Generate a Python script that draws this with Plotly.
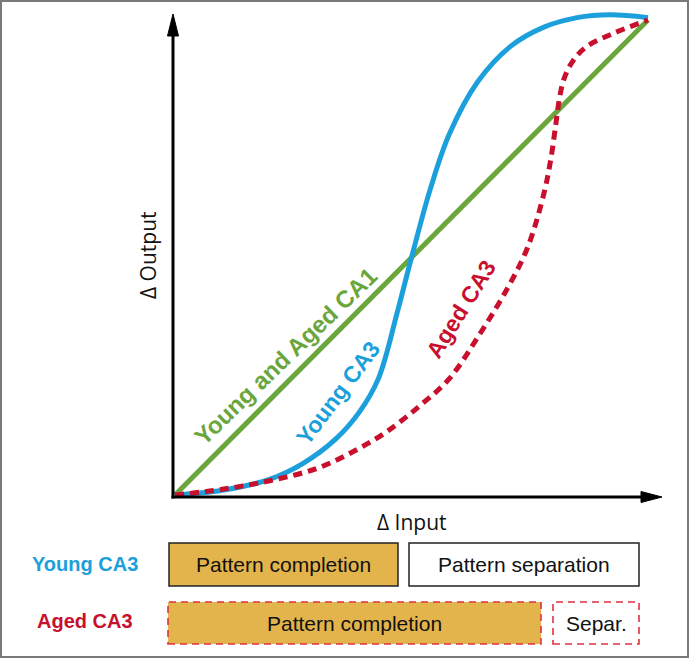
import plotly.graph_objects as go

W, H = 689, 658
X0, XS = 175, 473      # pixel of x=0, pixels per unit
Y0, YS = 495, 475      # pixel of y=0, pixels per unit

# ---- data ----
ca1_x = [0, 1]
ca1_y = [0, 1]

young_x = [0, 0.1, 0.2, 0.27, 0.34, 0.39, 0.43, 0.47, 0.5, 0.54, 0.58,
           0.64, 0.71, 0.78, 0.85, 0.92, 1.0]
young_y = [0, 0.01, 0.033, 0.066, 0.118, 0.175, 0.245, 0.385, 0.50, 0.645,
           0.76, 0.87, 0.945, 0.985, 1.005, 1.011, 1.005]

aged_x = [0, 0.1, 0.2, 0.3, 0.38, 0.45, 0.52, 0.58, 0.645, 0.70, 0.745,
          0.78, 0.795, 0.805, 0.812, 0.822, 0.84, 0.87, 0.927, 1.0]
aged_y = [0, 0.012, 0.03, 0.056, 0.093, 0.135, 0.19, 0.245, 0.34, 0.43,
          0.52, 0.635, 0.71, 0.78, 0.83, 0.875, 0.912, 0.944, 0.972, 1.0]

row_labels = ["Young CA3", "Aged CA3"]
young_boxes = ["Pattern completion", "Pattern separation"]
aged_boxes = ["Pattern completion", "Separ."]

GREEN = "#6AA63C"
BLUE = "#1BA0DC"
RED = "#C8102E"
GOLD = "#E3B44B"

def px(p):
    return p / W

def py(p):
    return 1 - p / H

fig = go.Figure()
fig.add_trace(go.Scatter(x=ca1_x, y=ca1_y, mode="lines",
                         line=dict(color=GREEN, width=5), hoverinfo="skip"))
fig.add_trace(go.Scatter(x=young_x, y=young_y, mode="lines",
                         line=dict(color=BLUE, width=5, shape="spline",
                                   smoothing=1.0),
                         hoverinfo="skip"))
fig.add_trace(go.Scatter(x=aged_x, y=aged_y, mode="lines",
                         line=dict(color=RED, width=5, dash="9px,6px",
                                   shape="spline", smoothing=1.0),
                         hoverinfo="skip"))

shapes = []
# outer border
shapes.append(dict(type="rect", xref="paper", yref="paper",
                   x0=px(1), x1=px(688), y0=py(657), y1=py(1),
                   line=dict(color="#7a7a7a", width=2), fillcolor="rgba(0,0,0,0)"))
# axes lines
ax_x, ax_y = 173, 497
shapes.append(dict(type="line", xref="paper", yref="paper",
                   x0=px(ax_x), x1=px(ax_x), y0=py(ax_y + 1.5), y1=py(30),
                   line=dict(color="black", width=3)))
shapes.append(dict(type="line", xref="paper", yref="paper",
                   x0=px(ax_x - 1.5), x1=px(645), y0=py(ax_y), y1=py(ax_y),
                   line=dict(color="black", width=3)))
# arrow heads
shapes.append(dict(type="path", xref="paper", yref="paper",
                   path=f"M {px(ax_x)} {py(14)} L {px(ax_x - 5.5)} {py(36)} L {px(ax_x + 5.5)} {py(36)} Z",
                   fillcolor="black", line=dict(color="black", width=1)))
shapes.append(dict(type="path", xref="paper", yref="paper",
                   path=f"M {px(662)} {py(ax_y)} L {px(641)} {py(ax_y - 5.5)} L {px(641)} {py(ax_y + 5.5)} Z",
                   fillcolor="black", line=dict(color="black", width=1)))

# boxes
box_geom_young = [(169, 398), (409, 639)]
box_geom_aged = [(168, 541), (553, 639)]
young_row = (543, 586)
aged_row = (602, 644)
fills = [GOLD, "white"]
annotations = []
BOX_FONT = dict(family="Liberation Sans, Arial", size=21, color="#111")
for (x0, x1), fill, label in zip(box_geom_young, fills, young_boxes):
    shapes.append(dict(type="rect", xref="paper", yref="paper",
                       x0=px(x0), x1=px(x1), y0=py(young_row[1]), y1=py(young_row[0]),
                       fillcolor=fill, line=dict(color="#222", width=1.5), layer="below"))
    annotations.append(dict(xref="paper", yref="paper", x=px((x0 + x1) / 2),
                            y=py(sum(young_row) / 2), text=label, showarrow=False,
                            font=BOX_FONT, xanchor="center", yanchor="middle"))
for (x0, x1), fill, label in zip(box_geom_aged, fills, aged_boxes):
    shapes.append(dict(type="rect", xref="paper", yref="paper",
                       x0=px(x0), x1=px(x1), y0=py(aged_row[1]), y1=py(aged_row[0]),
                       fillcolor=fill, line=dict(color="#E03040", width=1.6, dash="7px,5px"),
                       layer="below"))
    annotations.append(dict(xref="paper", yref="paper", x=px((x0 + x1) / 2),
                            y=py(sum(aged_row) / 2), text=label, showarrow=False,
                            font=BOX_FONT, xanchor="center", yanchor="middle"))

# row labels
for label, yc, col in zip(row_labels, [564, 621], [BLUE, RED]):
    annotations.append(dict(xref="paper", yref="paper", x=px(85), y=py(yc),
                            text=f"<b>{label}</b>", showarrow=False,
                            font=dict(family="Liberation Sans, Arial", size=20, color=col),
                            xanchor="center", yanchor="middle"))

# axis titles
annotations.append(dict(xref="paper", yref="paper", x=px(148), y=py(255),
                        text="Δ Output", textangle=-90, showarrow=False,
                        font=dict(family="Open Sans", size=21, color="#111"),
                        xanchor="center", yanchor="middle"))
annotations.append(dict(xref="paper", yref="paper", x=px(412), y=py(522),
                        text="Δ Input", showarrow=False,
                        font=dict(family="Open Sans", size=21, color="#111"),
                        xanchor="center", yanchor="middle"))

# curve labels
annotations.append(dict(xref="paper", yref="paper", x=px(285), y=py(356),
                        text="<b>Young and Aged CA1</b>", textangle=-44, showarrow=False,
                        font=dict(family="Liberation Sans, Arial", size=24, color=GREEN),
                        xanchor="center", yanchor="middle"))
annotations.append(dict(xref="paper", yref="paper", x=px(338), y=py(393),
                        text="<b>Young CA3</b>", textangle=-53, showarrow=False,
                        font=dict(family="Liberation Sans, Arial", size=23, color=BLUE),
                        xanchor="center", yanchor="middle"))
annotations.append(dict(xref="paper", yref="paper", x=px(461), y=py(309),
                        text="<b>Aged CA3</b>", textangle=-58, showarrow=False,
                        font=dict(family="Liberation Sans, Arial", size=23, color=RED),
                        xanchor="center", yanchor="middle"))

fig.update_layout(
    width=W, height=H, autosize=False,
    margin=dict(l=0, r=0, t=0, b=0),
    paper_bgcolor="white", plot_bgcolor="rgba(0,0,0,0)",
    showlegend=False,
    xaxis=dict(range=[(0 - X0) / XS, (W - X0) / XS], visible=False, fixedrange=True),
    yaxis=dict(range=[(Y0 - H) / YS, Y0 / YS], visible=False, fixedrange=True),
    shapes=shapes, annotations=annotations,
)

fig.write_html("out.html", config={"displayModeBar": False},
               post_script="document.body.style.margin='0';")
